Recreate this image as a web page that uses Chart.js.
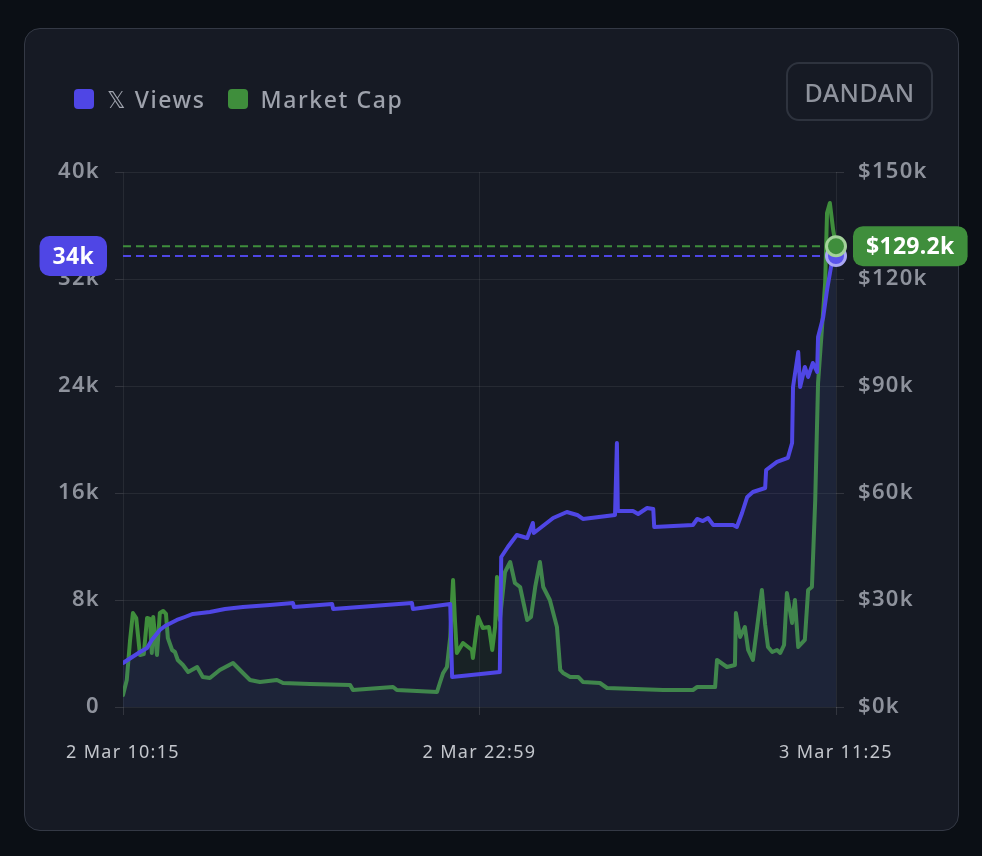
<!DOCTYPE html>
<html>
<head>
<meta charset="utf-8">
<script src="https://cdn.jsdelivr.net/npm/chart.js@4.4.1/dist/chart.umd.min.js"></script>
<style>
  html,body{margin:0;padding:0;width:982px;height:856px;background:#0b0f15;overflow:hidden;font-family:"Noto Sans","DejaVu Sans",sans-serif;}
  #card{position:absolute;left:24px;top:28px;width:933px;height:801px;background:#161a24;border:1.5px solid #343945;border-radius:16px;}
  #chart{position:absolute;left:0;top:0;}
  #legend{position:absolute;left:74px;top:84px;height:30px;display:flex;align-items:center;color:#9ea2ac;font-size:23px;font-weight:500;letter-spacing:1.6px;}
  .sw{width:20px;height:20px;border-radius:4px;margin-right:13px;}
  .item{display:flex;align-items:center;margin-right:22px;}
  #btn{position:absolute;left:786px;top:62px;width:143px;height:55px;border:2px solid #2e333e;border-radius:13px;color:#8f939d;font-size:25px;font-weight:500;letter-spacing:0.5px;display:flex;align-items:center;justify-content:center;box-sizing:content-box;}
</style>
</head>
<body>
<div id="card"></div>
<canvas id="chart" width="982" height="856"></canvas>
<div id="legend">
  <div class="item"><div class="sw" style="background:#4f46e5"></div><span>𝕏 Views</span></div>
  <div class="item"><div class="sw" style="background:#3f8e3c"></div><span>Market Cap</span></div>
</div>
<div id="btn">DANDAN</div>
<script>
// ---- data (minutes since 2 Mar 10:15) ----
const xTickLabels = ["2 Mar 10:15", "2 Mar 22:59", "3 Mar 11:25"];
const xTickValues = [0, 755, 1510];

const viewsT = [0,36,51,61,78,89,114,131,148,184,216,254,311,360,362,443,445,612,614,693,697,798,801,815,834,856,868,870,911,940,962,974,1042,1046,1048,1080,1091,1110,1123,1125,1207,1216,1228,1239,1250,1292,1300,1311,1322,1334,1360,1362,1385,1408,1417,1419,1430,1434,1444,1451,1461,1470,1472,1483,1491,1502,1510];
const viewsV = [3290,4112,4411,5010,5757,6056,6505,6729,6954,7103,7327,7477,7626,7776,7477,7701,7327,7776,7327,7701,2243,2617,11216,11963,12860,12636,13758,13010,14132,14580,14356,14057,14356,19739,14655,14655,14431,14879,14804,13459,13608,14057,13900,14132,13608,13608,13459,14505,15702,16076,16375,17720,18319,18618,19739,23926,26543,23926,25422,24674,25721,25048,27665,29160,31179,33422,33721];

const mcapT = [0,8,15,21,28,36,44,51,57,61,64,72,78,85,91,95,104,110,116,127,138,157,169,184,205,233,254,269,290,326,339,396,481,487,572,580,665,671,678,686,693,699,703,707,720,739,741,752,762,775,782,788,792,798,809,820,830,841,856,864,873,883,890,904,919,926,932,947,964,974,1010,1025,1144,1207,1216,1254,1258,1279,1296,1298,1307,1317,1324,1334,1343,1353,1360,1366,1375,1385,1392,1400,1406,1417,1423,1430,1444,1451,1459,1466,1472,1480,1487,1491,1497,1504,1510];
const mcapV = [3365,7571,18787,26358,24956,14581,14861,24956,24675,15142,25236,14581,26358,26918,26077,19348,15983,15422,13179,11777,9814,11216,8412,8132,10375,12338,9534,7571,7010,7571,6730,6449,6169,4767,5608,4767,4206,6730,9534,11216,19628,35611,24395,15142,17946,15983,13740,25236,22152,22432,15983,22432,36452,24395,37854,40658,34770,33648,24395,25236,33648,40658,33648,30003,22432,10375,9534,8412,8412,7010,6730,5328,4767,4767,5608,5608,13179,11216,11777,26358,19628,22432,15983,13179,22432,32807,22993,16824,15422,15983,15142,17385,31966,23554,30003,16824,18787,32807,33648,58043,90850,105711,118890,138518,141322,133752,129200];

const BLUE = '#4f46e5', GREEN = '#3f8e3c';
const toXY = (t, v) => t.map((x, i) => ({x, y: v[i]}));
const lastIdx = arr => arr.length - 1;

const spacing = {
  id: 'spacing',
  beforeDraw(chart) { chart.ctx.letterSpacing = '1.3px'; }
};

const endMarkers = {
  id: 'endMarkers',
  beforeDatasetsDraw(chart) {
    const {ctx, chartArea} = chart;
    chart.data.datasets.forEach((ds, i) => {
      const meta = chart.getDatasetMeta(i);
      const pt = meta.data[meta.data.length - 1];
      ctx.save();
      ctx.setLineDash([8, 5]);
      ctx.lineWidth = 2;
      ctx.strokeStyle = ds.borderColor;
      ctx.beginPath();
      ctx.moveTo(chartArea.left, pt.y);
      ctx.lineTo(pt.x, pt.y);
      ctx.stroke();
      ctx.restore();
    });
  },
  afterDatasetsDraw(chart) {
    const {ctx} = chart;
    const dot = (i, fill, ring) => {
      const d = chart.getDatasetMeta(i).data;
      const pt = d[d.length - 1];
      ctx.save();
      ctx.beginPath();
      ctx.arc(pt.x, pt.y, 9.5, 0, Math.PI * 2);
      ctx.fillStyle = fill;
      ctx.fill();
      ctx.lineWidth = 3;
      ctx.strokeStyle = ring;
      ctx.stroke();
      ctx.restore();
    };
    dot(0, '#5a53ea', '#aaa7f3');
    dot(1, '#3f8e3c', '#a3d29a');
  },
  afterDraw(chart) {
    const {ctx, chartArea} = chart;
    const badge = (text, color, y, side) => {
      ctx.save();
      ctx.letterSpacing = '0.3px';
      ctx.font = '700 23px "Noto Sans", sans-serif';
      const w = ctx.measureText(text).width + 26;
      const h = 40;
      const x = side === 'left' ? chartArea.left - 16 - w : chartArea.right + 17;
      ctx.fillStyle = color;
      ctx.beginPath();
      ctx.roundRect(x, y - h / 2, w, h, 10);
      ctx.fill();
      ctx.fillStyle = '#ffffff';
      ctx.textAlign = 'center';
      ctx.textBaseline = 'middle';
      ctx.fillText(text, x + w / 2, y + 1);
      ctx.restore();
    };
    const mv = chart.getDatasetMeta(0).data, mm = chart.getDatasetMeta(1).data;
    const lv = viewsV[lastIdx(viewsV)], lm = mcapV[lastIdx(mcapV)];
    badge(Math.round(lv / 1000) + 'k', BLUE, mv[mv.length - 1].y, 'left');
    badge('$' + (lm / 1000).toFixed(1) + 'k', GREEN, mm[mm.length - 1].y, 'right');
  }
};

const gridColor = 'rgba(255,255,255,0.07)';

new Chart(document.getElementById('chart'), {
  type: 'line',
  data: {
    datasets: [
      {
        label: 'Views',
        data: toXY(viewsT, viewsV),
        yAxisID: 'y',
        borderColor: BLUE,
        backgroundColor: 'rgba(79,70,229,0.10)',
        fill: 'origin',
        borderWidth: 4,
        borderJoinStyle: 'round',
        borderCapStyle: 'round',
        tension: 0,
        pointRadius: 0,
      },
      {
        label: 'Market Cap',
        data: toXY(mcapT, mcapV),
        yAxisID: 'y1',
        borderColor: GREEN,
        backgroundColor: 'rgba(63,142,60,0.07)',
        fill: 'origin',
        borderWidth: 4,
        borderJoinStyle: 'round',
        borderCapStyle: 'round',
        tension: 0,
        pointRadius: 0,
      }
    ]
  },
  options: {
    responsive: false,
    animation: false,
    devicePixelRatio: 1,
    layout: {padding: {top: 172, bottom: 89, left: 0, right: 0}},
    plugins: {legend: {display: false}, tooltip: {enabled: false}},
    scales: {
      x: {
        type: 'linear',
        min: xTickValues[0],
        max: xTickValues[xTickValues.length - 1],
        afterBuildTicks: s => { s.ticks = xTickValues.map(v => ({value: v})); },
        afterFit: s => { s.height = 60; },
        ticks: {
          callback: (v, i) => xTickLabels[i],
          color: '#c3c6cc',
          font: {family: '"Noto Sans", sans-serif', size: 18, weight: 400},
          padding: 27,
          maxRotation: 0,
          autoSkip: false,
        },
        grid: {color: gridColor, tickLength: 8, tickColor: 'rgba(255,255,255,0.12)'},
        border: {display: false},
      },
      y: {
        position: 'left',
        min: 0, max: 40000,
        afterFit: s => { s.width = 123; },
        ticks: {
          stepSize: 8000,
          callback: v => v === 0 ? '0' : (v / 1000) + 'k',
          color: '#8e929c',
          font: {family: '"Noto Sans", sans-serif', size: 22, weight: 600},
          padding: 15,
        },
        grid: {color: gridColor, tickLength: 8, tickColor: 'rgba(255,255,255,0.12)'},
        border: {display: false},
      },
      y1: {
        position: 'right',
        min: 0, max: 150000,
        afterFit: s => { s.width = 146; },
        ticks: {
          stepSize: 30000,
          callback: v => '$' + (v / 1000) + 'k',
          color: '#8e929c',
          font: {family: '"Noto Sans", sans-serif', size: 22, weight: 600},
          padding: 14,
        },
        grid: {drawOnChartArea: false, tickLength: 8, tickColor: 'rgba(255,255,255,0.12)'},
        border: {display: false},
      }
    }
  },
  plugins: [spacing, endMarkers]
});
</script>
</body>
</html>
